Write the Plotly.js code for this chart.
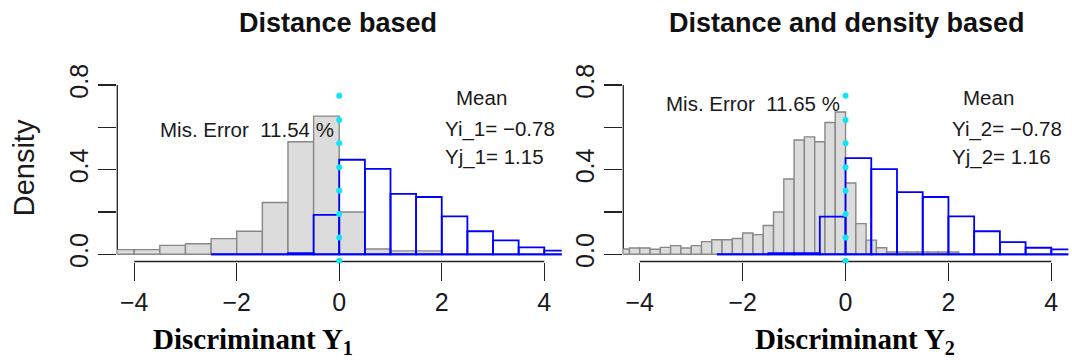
<!DOCTYPE html>
<html>
<head>
<meta charset="utf-8">
<script src="https://cdn.plot.ly/plotly-3.0.1.min.js"></script>
<style>html,body{margin:0;padding:0;background:#fff;}#chart{width:1072px;height:360px;}</style>
</head>
<body>
<div id="chart"></div>
<script>
// ---------- data ----------
const panelTitles = ['Distance based', 'Distance and density based'];
const axisTitles = ['Discriminant Y<sub>1</sub>', 'Discriminant Y<sub>2</sub>'];
const yAxisTitle = 'Density';

const xTicks = [-4, -2, 0, 2, 4];
const xTickLabels = ['\u22124', '\u22122', '0', '2', '4'];
const yTicks = [0, 0.4, 0.8];
const yTickLabels = ['0.0', '0.4', '0.8'];
const yMinorTicks = [0.2, 0.6];

// Panel 1: distance based
const gray1Edges = [-4.5, -4, -3.5, -3, -2.5, -2, -1.5, -1, -0.5, 0, 0.5, 1, 1.5, 2];
const gray1Density = [0.022, 0.022, 0.042, 0.050, 0.074, 0.109, 0.245, 0.532, 0.653, 0.200, 0.025, 0.016, 0.016];
const blue1Edges = [-2.5, -2, -1.5, -1, -0.5, 0, 0.5, 1, 1.5, 2, 2.5, 3, 3.5, 4, 4.5];
const blue1Density = [0, 0, 0, 0.006, 0.186, 0.447, 0.404, 0.286, 0.271, 0.179, 0.109, 0.066, 0.033, 0.017];

// Panel 2: distance and density based
const gray2Edges = [-4.4, -4.2, -4.0, -3.8, -3.6, -3.4, -3.2, -3.0, -2.8, -2.6, -2.4, -2.2, -2.0, -1.8, -1.6, -1.4, -1.2, -1.0,
                    -0.8, -0.6, -0.4, -0.2, 0.0, 0.2, 0.4, 0.6, 0.8, 1.0, 1.2, 1.4, 1.6, 1.8, 2.0, 2.2];
const gray2Density = [0.025, 0.030, 0.030, 0.024, 0.033, 0.041, 0.030, 0.041, 0.060, 0.069, 0.069, 0.075, 0.101, 0.093, 0.136,
                      0.200, 0.356, 0.540, 0.555, 0.532, 0.623, 0.673, 0.337, 0.145, 0.067, 0.031, 0.011, 0.011, 0.011, 0.011,
                      0.011, 0.011, 0.011];
const blue2Edges = [-2.5, -2, -1.5, -1, -0.5, 0, 0.5, 1, 1.5, 2, 2.5, 3, 3.5, 4, 4.5];
const blue2Density = [0, 0, 0.006, 0.006, 0.178, 0.455, 0.403, 0.294, 0.271, 0.179, 0.109, 0.058, 0.031, 0.023];

// cut-off (dotted cyan line at 0)
const cutX = [0, 0];
const cutY = [-0.031, 0.079, 0.19, 0.30, 0.412, 0.525, 0.635, 0.75];

const misError = ['Mis. Error\u00a0\u00a011.54 %', 'Mis. Error\u00a0\u00a011.65 %'];
const meanI = ['Yi_1= \u22120.78', 'Yi_2= \u22120.78'];
const meanJ = ['Yj_1= 1.15', 'Yj_2= 1.16'];

// ---------- layout geometry ----------
const W = 1072, H = 360;
const xDom1 = [117.3 / W, 561.7 / W], xDom2 = [623.3 / W, 1068.3 / W];
const yDom = [98.5 / H, 281.7 / H];
const xRange1 = [-4.33, 4.34], xRange2 = [-4.32, 4.33];
const yRange = [-0.034, 0.832];

const sans = 'Liberation Sans, Arial, sans-serif';
const serif = 'Liberation Serif, Times New Roman, serif';

function centers(edges) { const c = []; for (let i = 0; i < edges.length - 1; i++) c.push((edges[i] + edges[i + 1]) / 2); return c; }
function widths(edges) { const w = []; for (let i = 0; i < edges.length - 1; i++) w.push(edges[i + 1] - edges[i]); return w; }
function toPaper(v, dom, rng) { return dom[0] + (v - rng[0]) / (rng[1] - rng[0]) * (dom[1] - dom[0]); }

function grayTrace(edges, dens, xa, ya) {
  return { type: 'bar', x: centers(edges), y: dens, width: widths(edges), xaxis: xa, yaxis: ya,
    marker: { color: '#dcdcdc', line: { color: '#878787', width: 1.4 } }, hoverinfo: 'skip', showlegend: false };
}
function blueTrace(edges, dens, xa, ya) {
  return { type: 'bar', x: centers(edges), y: dens, width: widths(edges), xaxis: xa, yaxis: ya,
    marker: { color: 'rgba(0,0,0,0)', line: { color: '#0000ff', width: 1.8 } }, hoverinfo: 'skip', showlegend: false };
}
function cutTrace(xa, ya) {
  return { type: 'scatter', mode: 'markers', x: cutY.map(() => cutX[0]), y: cutY, xaxis: xa, yaxis: ya, cliponaxis: false,
    marker: { color: '#10e6f2', size: 6 }, hoverinfo: 'skip', showlegend: false };
}

const data = [
  grayTrace(gray1Edges, gray1Density, 'x', 'y'), blueTrace(blue1Edges, blue1Density, 'x', 'y'), cutTrace('x', 'y'),
  grayTrace(gray2Edges, gray2Density, 'x2', 'y2'), blueTrace(blue2Edges, blue2Density, 'x2', 'y2'), cutTrace('x2', 'y2')
];

function xAxis(dom, rng, anchor) {
  return { domain: dom, range: rng, anchor: anchor, tickmode: 'array', tickvals: xTicks, ticktext: xTickLabels,
    ticks: 'outside', ticklen: 18, tickwidth: 1.3, tickcolor: '#222', showline: false, showgrid: false, zeroline: false,
    tickfont: { family: sans, size: 25, color: '#1a1a1a' }, fixedrange: true };
}
function yAxis(rng, anchor) {
  return { domain: yDom, range: rng, anchor: anchor, tickmode: 'array', tickvals: yTicks, ticktext: yTickLabels,
    ticks: 'outside', ticklen: 18, tickwidth: 1.3, tickcolor: '#222', showline: false, showgrid: false, zeroline: false,
    minor: { tickmode: 'array', tickvals: yMinorTicks, ticks: 'outside', ticklen: 18, tickwidth: 1.3, tickcolor: '#222', showgrid: false },
    tickangle: -90, tickfont: { family: sans, size: 25, color: '#1a1a1a' }, fixedrange: true };
}

const shapes = [];
const yAxisEnds = [0, 0.8];
[[xDom1, xRange1, blue1Edges, 'x', 'y'], [xDom2, xRange2, blue2Edges, 'x2', 'y2']].forEach(([dom, rng, bEdges, xa, ya]) => {
  shapes.push({ type: 'line', xref: 'paper', yref: 'paper',
    x0: toPaper(xTicks[0], dom, rng), x1: toPaper(xTicks[xTicks.length - 1], dom, rng),
    y0: yDom[0], y1: yDom[0], line: { color: '#222', width: 1.3 }, layer: 'below' });
  shapes.push({ type: 'line', xref: 'paper', yref: 'paper', x0: dom[0], x1: dom[0],
    y0: toPaper(yAxisEnds[0], yDom, yRange), y1: toPaper(yAxisEnds[1], yDom, yRange),
    line: { color: '#222', width: 1.3 }, layer: 'below' });
  shapes.push({ type: 'line', xref: xa, yref: ya, x0: bEdges[0], x1: bEdges[bEdges.length - 1], y0: 0, y1: 0,
    line: { color: '#0000ff', width: 1.8 }, layer: 'above' });
});

const txt = { family: sans, size: 20.5, color: '#1a1a1a' };
const annotations = [];
const panels = [['x', 'y', xDom1], ['x2', 'y2', xDom2]];
const misPos = [[-1.80, 0.590], [-1.80, 0.712]];
const meanPos = [[2.78, 0.741], [2.77, 0.743]];
panels.forEach(([xa, ya, dom], i) => {
  annotations.push({ xref: 'paper', yref: 'paper', x: (i === 0 ? 338 : 847) / W, y: 1 - 22.5 / H, text: '<b>' + panelTitles[i] + '</b>',
    showarrow: false, xanchor: 'center', yanchor: 'middle', font: { family: sans, size: 27, color: '#111' } });
  annotations.push({ xref: 'paper', yref: 'paper', x: (i === 0 ? 252.5 : 855) / W, y: 1 - 341 / H, text: '<b>' + axisTitles[i] + '</b>',
    showarrow: false, xanchor: 'center', yanchor: 'middle', font: { family: serif, size: 29, color: '#000' } });
  annotations.push({ xref: xa, yref: ya, x: misPos[i][0], y: misPos[i][1], text: misError[i], showarrow: false,
    xanchor: 'center', yanchor: 'middle', font: txt });
  annotations.push({ xref: xa, yref: ya, x: meanPos[i][0], y: meanPos[i][1], text: 'Mean', showarrow: false,
    xanchor: 'center', yanchor: 'middle', font: txt });
  annotations.push({ xref: xa, yref: ya, x: 2.03, y: 0.590, text: meanI[i], showarrow: false,
    xanchor: 'left', yanchor: 'middle', font: txt });
  annotations.push({ xref: xa, yref: ya, x: 2.03, y: 0.462, text: meanJ[i], showarrow: false,
    xanchor: 'left', yanchor: 'middle', font: txt });
});
annotations.push({ xref: 'paper', yref: 'paper', x: 24 / W, y: 1 - 168.3 / H, text: yAxisTitle, textangle: -90, showarrow: false,
  xanchor: 'center', yanchor: 'middle', font: { family: sans, size: 29, color: '#1a1a1a' } });

const layout = {
  width: W, height: H, margin: { l: 0, r: 0, t: 0, b: 0 }, paper_bgcolor: '#fff', plot_bgcolor: 'rgba(0,0,0,0)',
  barmode: 'overlay', showlegend: false,
  xaxis: xAxis(xDom1, xRange1, 'y'), yaxis: yAxis(yRange, 'x'),
  xaxis2: xAxis(xDom2, xRange2, 'y2'), yaxis2: yAxis(yRange, 'x2'),
  shapes: shapes, annotations: annotations
};

Plotly.newPlot('chart', data, layout, { staticPlot: true, displayModeBar: false });
</script>
</body>
</html>
